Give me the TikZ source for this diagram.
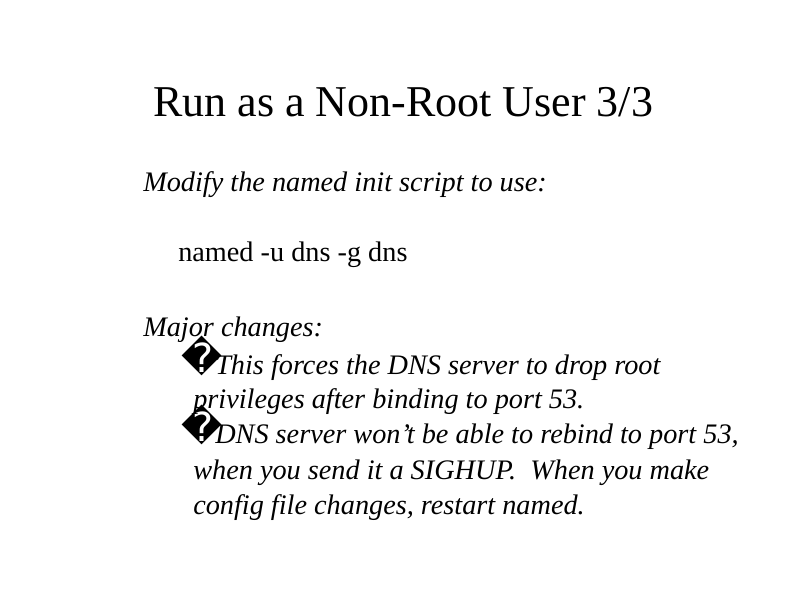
\documentclass[tikz,border=0pt]{standalone}
\usepackage{fontspec}
\setmainfont{Liberation Serif}
\newfontfamily\dvs{DejaVu Sans}
\begin{document}
\begin{tikzpicture}[x=0.75pt,y=-0.75pt,
  ttl/.style={anchor=west,inner sep=0pt,font=\fontsize{33}{38}\selectfont},
  body/.style={anchor=west,inner sep=0pt,font=\fontsize{21.2}{24}\selectfont\itshape},
  bx/.style={anchor=west,inner sep=0pt,font=\fontsize{30}{32}\selectfont\dvs}]
\useasboundingbox (0,0) rectangle (794,595);
\node[ttl] (t) at (153,102) {Run as a Non-Root User 3/3};
\node[body] (a) at (143,185) {Modify the named init script to use:};
\node[body,font=\fontsize{21.2}{24}\selectfont] (b) at (178,255) {named -u dns -g dns};
\node[body] (c) at (143,330) {Major changes:};
\node[bx] (b1) at (181,356) {\char"FFFD};
\node[body] (d) at (215,368) {This forces the DNS server to drop root};
\node[body] (e) at (193,402) {privileges after binding to port 53.};
\node[bx] (b2) at (181,425) {\char"FFFD};
\node[body] (f) at (215,437) {DNS server won\char"27 t be able to rebind to port 53,};
\node[body] (g) at (193,473) {when you send it a SIGHUP.\ \ When you make};
\node[body] (h) at (193,508) {config file changes, restart named.};
\end{tikzpicture}
\end{document}
